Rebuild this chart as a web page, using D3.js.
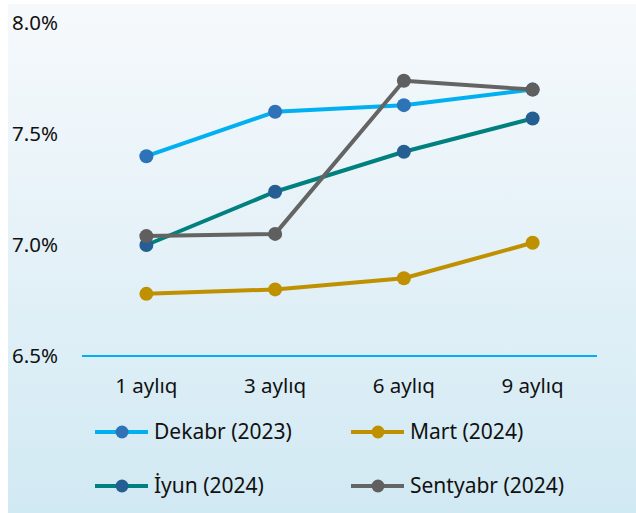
<!DOCTYPE html>
<html>
<head>
<meta charset="utf-8">
<script src="https://cdn.jsdelivr.net/npm/d3@7"></script>
<style>
  html, body { margin: 0; padding: 0; background: #ffffff; }
  svg { display: block; }
  text { font-family: "Noto Sans", sans-serif; fill: #111; }
</style>
</head>
<body>
<svg id="chart" width="636" height="513"></svg>
<script>
// Maturities on the x axis
const categories = ["1 aylıq", "3 aylıq", "6 aylıq", "9 aylıq"];

// Yield curves (%) by survey month
const dekabr2023   = [7.40, 7.60, 7.63, 7.70];
const mart2024     = [6.78, 6.80, 6.85, 7.01];
const iyun2024     = [7.00, 7.24, 7.42, 7.57];
const sentyabr2024 = [7.04, 7.05, 7.74, 7.70];

// Y axis ticks
const yTicks = [6.5, 7.0, 7.5, 8.0];

const seriesNames = ["Dekabr (2023)", "Mart (2024)", "İyun (2024)", "Sentyabr (2024)"];
const seriesValues = [dekabr2023, mart2024, iyun2024, sentyabr2024];
const lineColors   = ["#00b0f0", "#bf9000", "#00807e", "#646464"];
const markerColors = ["#2e72b8", "#bf9000", "#245e92", "#5f5f5f"];

const series = seriesNames.map((name, i) => ({
  name, values: seriesValues[i], line: lineColors[i], marker: markerColors[i]
}));

const svg = d3.select("#chart");

// Background panel with a soft vertical gradient
const defs = svg.append("defs");
const grad = defs.append("linearGradient")
  .attr("id", "bg").attr("x1", 0).attr("y1", 0).attr("x2", 0).attr("y2", 1);
grad.append("stop").attr("offset", "0%").attr("stop-color", "#f6f9fc");
grad.append("stop").attr("offset", "100%").attr("stop-color", "#d1e9f3");
svg.append("rect").attr("x", 8).attr("y", 4).attr("width", 628).attr("height", 509)
  .attr("fill", "url(#bg)");

const x = d3.scalePoint().domain(categories).range([82, 597]).padding(0.5);
const y = d3.scaleLinear().domain([6.5, 8.0]).range([356, 23]);

// Baseline at the bottom of the plot
svg.append("line")
  .attr("x1", 82).attr("x2", 597)
  .attr("y1", y(6.5)).attr("y2", y(6.5))
  .attr("stroke", "#00b0f0").attr("stroke-width", 2);

// Y tick labels
svg.append("g").selectAll("text").data(yTicks).join("text")
  .attr("x", 12).attr("y", d => y(d))
  .attr("dy", "0.35em")
  .attr("font-size", 20.5)
  .text(d => d.toFixed(1) + "%");

// X category labels
svg.append("g").selectAll("text").data(categories).join("text")
  .attr("x", d => x(d)).attr("y", 386)
  .attr("dy", "0.35em")
  .attr("text-anchor", "middle")
  .attr("font-size", 20.5)
  .text(d => d);

const line = d3.line()
  .x((d, i) => x(categories[i]))
  .y(d => y(d));

const g = svg.append("g");
series.forEach(s => {
  g.append("path")
    .attr("d", line(s.values))
    .attr("fill", "none")
    .attr("stroke", s.line)
    .attr("stroke-width", 4)
    .attr("stroke-linejoin", "round");
  g.selectAll(null).data(s.values).join("circle")
    .attr("cx", (d, i) => x(categories[i]))
    .attr("cy", d => y(d))
    .attr("r", 7)
    .attr("fill", s.marker);
});

// Legend: two columns, two rows
const legendPos = [[95, 432], [351, 432], [95, 486], [351, 486]];
series.forEach((s, i) => {
  const [lx, ly] = legendPos[i];
  const lg = svg.append("g").attr("transform", `translate(${lx},${ly})`);
  lg.append("line").attr("x1", 0).attr("x2", 53).attr("y1", 0).attr("y2", 0)
    .attr("stroke", s.line).attr("stroke-width", 4);
  lg.append("circle").attr("cx", 27).attr("cy", 0).attr("r", 6.5).attr("fill", s.marker);
  lg.append("text").attr("x", 59).attr("y", 0).attr("dy", "0.35em")
    .attr("font-size", 21).text(s.name);
});
</script>
</body>
</html>
